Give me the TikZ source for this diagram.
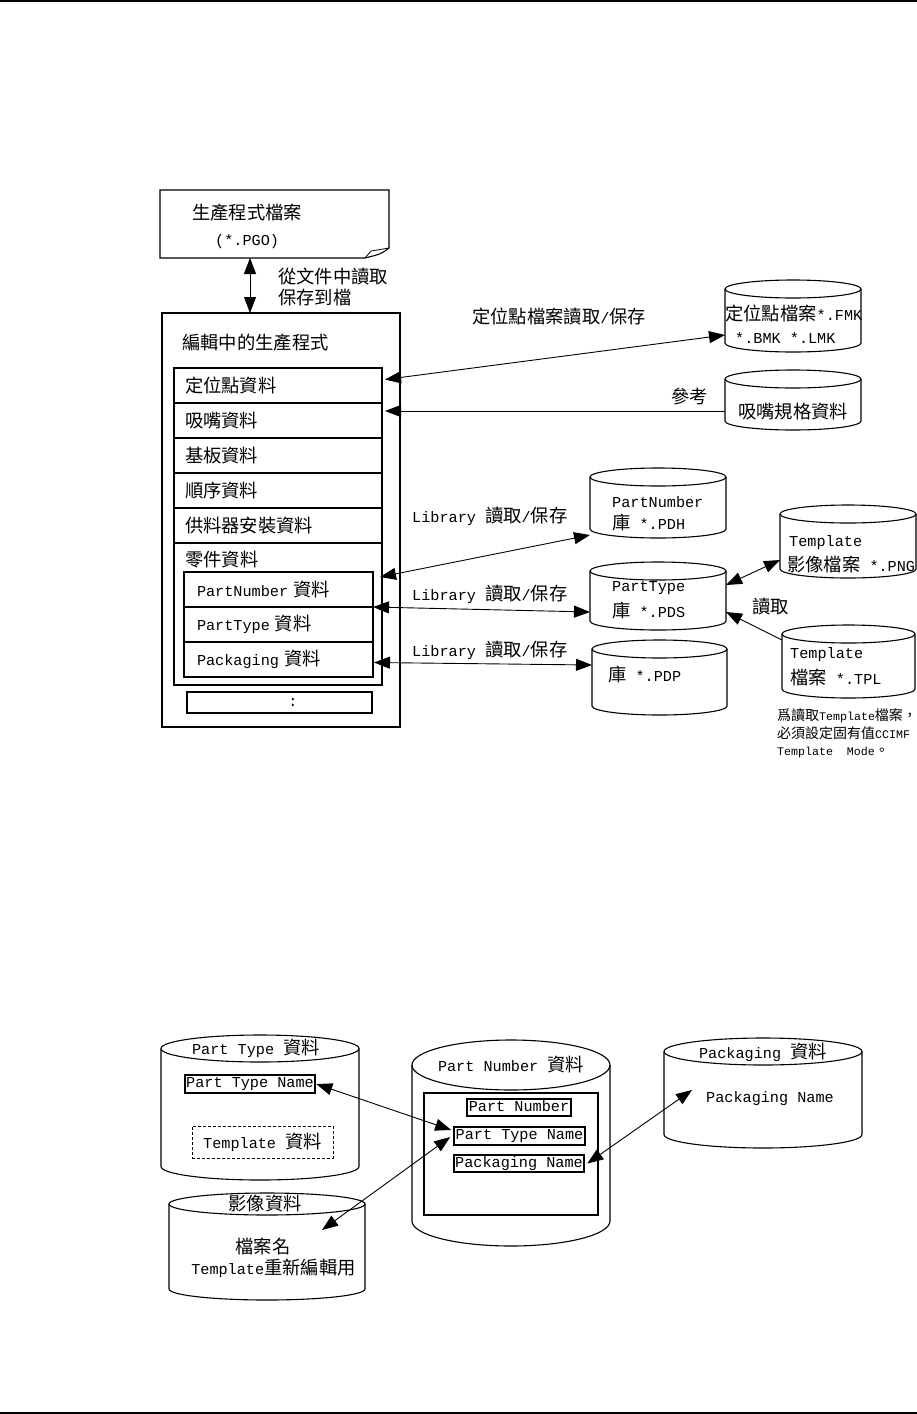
\documentclass[tikz,border=0pt]{standalone}
\usepackage{fontspec}
\setmainfont[Scale=0.83]{Liberation Mono}
\newfontfamily\cjk{Noto Sans CJK TC}
\usetikzlibrary{arrows.meta,calc}
\newcommand{\bigtxt}{\fontsize{18.3pt}{22pt}\selectfont}
\newcommand{\smalltxt}{\fontsize{14pt}{17.5pt}\selectfont}
% cylinder outline round a named node: name, half width, ry
\newcommand{\drawcyl}[3]{%
  \draw[line width=1.1pt] ([yshift=-#3pt]#1.north) ellipse [x radius=#2pt, y radius=#3pt];
  \draw[line width=1.1pt] ([yshift=-#3pt]#1.north west) -- ([yshift=#3pt]#1.south west)
    arc [start angle=180, end angle=360, x radius=#2pt, y radius=#3pt]
    -- ([yshift=-#3pt]#1.north east);}

\begin{document}
\begin{tikzpicture}[x=1pt,y=-1pt,font=\bigtxt,
  box/.style={draw,line width=1.1pt,inner sep=0pt,outer sep=0pt},
  row/.style={box,anchor=north west,minimum width=208pt,minimum height=35pt,inner xsep=11pt,text width=186pt,align=left},
  subrow/.style={box,anchor=north west,minimum width=189pt,minimum height=35pt,inner xsep=13pt,text width=163pt,align=left},
  txt/.style={inner sep=0pt,anchor=west},
  cyl/.style={inner sep=0pt,outer sep=0pt},
  namebox/.style={draw,line width=2pt,inner xsep=1.5pt,inner ysep=1.5pt,text height=11pt,text depth=3.5pt},
  link/.style={line width=0.9pt,{Triangle[length=16pt,width=12pt]}-{Triangle[length=16pt,width=12pt]}},
  oneway/.style={line width=0.9pt,-{Triangle[length=16pt,width=12pt]}}]
\useasboundingbox (0,0) rectangle (917,1414);
\draw[line width=2.4pt] (0,1.2) -- (917,1.2);
\draw[line width=2.4pt] (0,1412.8) -- (917,1412.8);

% program file
\node[cyl,minimum width=229pt,minimum height=68pt] (pgo) at (274.5,224) {};
\draw[line width=1.1pt] (pgo.south west) -- (pgo.north west) -- (pgo.north east) -- ([yshift=10pt]pgo.south east)
  .. controls ([xshift=-8pt,yshift=4pt]pgo.south east) .. ([xshift=-24pt]pgo.south east) -- cycle;
\draw[line width=0.8pt] ([xshift=-24pt]pgo.south east) -- ([xshift=-18pt,yshift=7pt]pgo.south east) -- ([yshift=10pt]pgo.south east);
\node[txt] (pgot) at (192,213) {\cjk 生產程式檔案};
\node[txt] (pgoe) at (215,242) {(*.PGO)};

% program being edited
\node[box,anchor=north west,minimum width=238pt,minimum height=414pt] (edit) at (162,313) {};
\draw[link] ([xshift=-24.5pt]pgo.south) -- ([xshift=-24.5pt]pgo.south |- edit.north);
\node[txt] (rd1) at (278,277) {\cjk 從文件中讀取};
\node[txt] (rd2) at (278,298) {\cjk 保存到檔};
\node[txt] (editt) at (182,343) {\cjk 編輯中的生產程式};

\node[row] (rloc) at (174,368) {\cjk 定位點資料};
\node[row] (rnoz) at (174,403) {\cjk 吸嘴資料};
\node[row] (rbrd) at (174,438) {\cjk 基板資料};
\node[row] (rseq) at (174,473) {\cjk 順序資料};
\node[row] (rfdr) at (174,508) {\cjk 供料器安裝資料};
\node[box,anchor=north west,minimum width=208pt,minimum height=142pt] (rpart) at (174,543) {};
\node[txt] (rpartt) at (185,560) {\cjk 零件資料};
\node[subrow] (pn) at (184,572) {PartNumber {\cjk 資料}};
\node[subrow] (pt) at (184,607) {PartType {\cjk 資料}};
\node[subrow] (pk) at (184,642) {Packaging {\cjk 資料}};
\node[box,anchor=north west,minimum width=185pt,minimum height=21pt] (rmore) at (187,692) {\hspace*{27pt}:};

% files on the right
\node[cyl,minimum width=136pt,minimum height=72pt] (fmkdb) at (793,316) {};
\drawcyl{fmkdb}{68}{9}
\node[txt] (fmk1) at (725,314) {{\cjk 定位點檔案}*.FMK};
\node[txt] (fmk2) at (735,338) {*.BMK *.LMK};
\node[cyl,minimum width=136pt,minimum height=60pt] (nozdb) at (793,400) {};
\drawcyl{nozdb}{68}{9}
\node (noz1) at (793,412) {\cjk 吸嘴規格資料};

\draw[link] ([xshift=3pt,yshift=6pt]rloc.east) -- ([yshift=-19pt]fmkdb.west);
\node[txt] (fmkl) at (472,317) {{\cjk 定位點檔案讀取}/{\cjk 保存}};
\draw[oneway] ([yshift=-11pt]nozdb.west) -- ([xshift=3pt,yshift=9.5pt]rnoz.east);
\node[txt] (nozl) at (671,396) {\cjk 參考};

% libraries
\node[cyl,minimum width=136pt,minimum height=70pt] (pdh) at (658,503) {};
\drawcyl{pdh}{68}{9}
\node[txt] (pdh1) at (612,502) {PartNumber};
\node[txt] (pdh2) at (612,523) {{\cjk 庫} *.PDH};
\node[cyl,minimum width=136pt,minimum height=68pt] (pds) at (658,596) {};
\drawcyl{pds}{68}{9}
\node[txt] (pds1) at (612,588) {PartType};
\node[txt] (pds2) at (612,611) {{\cjk 庫} *.PDS};
\node[cyl,minimum width=135pt,minimum height=75pt] (pdp) at (659.5,677.5) {};
\drawcyl{pdp}{67.5}{9}
\node[txt] (pdp1) at (608,675) {{\cjk 庫} *.PDP};
\node[cyl,minimum width=136pt,minimum height=73pt] (png) at (848,541.5) {};
\drawcyl{png}{68}{9}
\node[txt] (png1) at (789,543) {Template};
\node[txt] (png2) at (787,565) {{\cjk 影像檔案} *.PNG};
\node[cyl,minimum width=133pt,minimum height=73pt] (tpl) at (848.5,661.5) {};
\drawcyl{tpl}{66.5}{9}
\node[txt] (tpl1) at (790,655) {Template};
\node[txt] (tpl2) at (790,678) {{\cjk 檔案} *.TPL};

\draw[link] ([xshift=7pt,yshift=12.5pt]pn.east) -- ([yshift=-32pt]pdh.west);
\node[txt] (lib1) at (412,516) {Library {\cjk 讀取}/{\cjk 保存}};
\draw[link] (pn.south east) -- ([yshift=-16pt]pds.west);
\node[txt] (lib2) at (412,594) {Library {\cjk 讀取}/{\cjk 保存}};
\draw[link] ([xshift=1pt,yshift=-3pt]pk.east) -- ([yshift=12.5pt]pdp.west);
\node[txt] (lib3) at (412,650) {Library {\cjk 讀取}/{\cjk 保存}};
\draw[link] ([yshift=11pt]pds.east) -- ([yshift=-18.5pt]png.west);
\draw[oneway] ([yshift=21.5pt]tpl.west) -- ([yshift=-16pt]pds.east);
\node[txt] (tpll) at (752,607) {\cjk 讀取};
\node[txt,font=\smalltxt,align=left,anchor=north west] (note) at (777,709)
  {{\cjk 爲讀取}Template{\cjk 檔案，}\\{\cjk 必須設定固有值}CCIMF\\Template\ \ Mode{\cjk 。}};

% data relations
\node[cyl,minimum width=198pt,minimum height=145pt] (ptdb) at (260,1107.5) {};
\drawcyl{ptdb}{99}{13.5}
\node (ptdbt) at (256,1048) {Part Type {\cjk 資料}};
\node[namebox] (ptname) at (250,1084) {Part Type Name};
\node[draw,dash pattern=on 3pt off 2pt,line width=0.9pt,minimum width=141pt,minimum height=32pt,inner sep=0pt] (tmpl) at (262.5,1142) {Template {\cjk 資料}};

\node[cyl,minimum width=196pt,minimum height=107pt] (imgdb) at (267,1246.5) {};
\drawcyl{imgdb}{98}{11}
\node (imgt) at (265,1204) {\cjk 影像資料};
\node (img1) at (263,1247) {\cjk 檔案名};
\node (img2) at (273.5,1268) {Template{\cjk 重新編輯用}};

\node[cyl,minimum width=198pt,minimum height=206pt] (pndb) at (511,1143) {};
\drawcyl{pndb}{99}{25}
\node (pndbt) at (511,1065) {Part Number {\cjk 資料}};
\node[box,anchor=north west,minimum width=174pt,minimum height=122pt] (pnin) at (424,1093) {};
\node[namebox] (pnum) at (519,1107.5) {Part Number};
\node[namebox] (pnt) at (519.5,1136) {Part Type Name};
\node[namebox] (pnpk) at (519,1163.5) {Packaging Name};

\node[cyl,minimum width=198pt,minimum height=110pt] (pkdb) at (763,1093) {};
\drawcyl{pkdb}{99}{13.5}
\node (pkdbt) at (763,1052) {Packaging {\cjk 資料}};
\node (pkname) at (770,1099) {Packaging Name};

\draw[link] (ptname.east) -- ([xshift=-2pt,yshift=6pt]pnt.west);
\draw[link] ([xshift=-43pt,yshift=16.5pt]imgdb.east) -- ([xshift=-3pt,yshift=-1pt]pnt.west);
\draw[link] ([xshift=2pt]pnpk.east) -- ([xshift=28pt,yshift=3pt]pkdb.west);
\end{tikzpicture}
\end{document}
